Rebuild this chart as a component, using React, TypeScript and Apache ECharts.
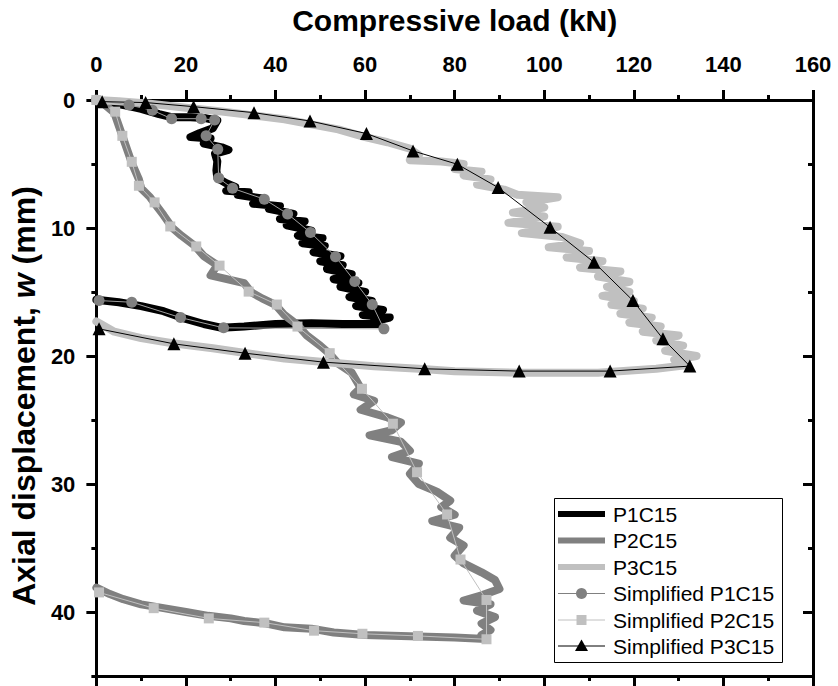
import React, { useEffect, useRef } from "react";
import * as echarts from "echarts";

// ---------- data (load kN, displacement mm) ----------
const p1c15: number[][] = [
  [0, 0], [3, 0.2], [7, 0.45], [10, 0.7], [14, 1.1], [17, 1.35], [21, 1.35], [24, 1.4], [27, 1.6],
  [26, 2.2], [23, 2.6], [21, 2.9], [25.5, 3.0], [24, 3.4], [28, 3.7], [29.5, 3.9], [26.5, 4.2],
  [27, 4.8], [26.8, 5.5], [27, 6.1], [29, 6.5], [31, 6.8], [29, 7.1], [34, 7.2], [31.5, 7.4],
  [37, 7.7], [35, 8.1], [41, 8.3], [38.5, 8.5], [44, 8.9], [41, 9.3], [46.5, 9.5], [42.5, 9.8],
  [48, 10.2], [45, 10.6], [50.5, 10.8], [46, 11.2], [51, 11.4], [48.5, 11.9], [54.5, 12.2], [50, 12.6],
  [55, 12.9], [51.5, 13.2], [57, 13.6], [53, 14.0], [58.5, 14.3], [54.5, 14.6], [60, 15.0], [56.5, 15.4],
  [61.5, 15.7], [58, 16.1], [64, 16.4], [59.5, 16.8], [65.5, 17.0], [62, 17.3], [63, 17.5], [55, 17.5],
  [48, 17.45], [40, 17.5], [33, 17.7], [28, 17.8], [24, 17.5], [19, 17.0], [15, 16.5], [10, 16.1],
  [5, 15.8], [0, 15.6],
];

const p2c15: number[][] = [
  [0, 0], [2, 0.4], [4, 1.0], [5, 2.0], [6, 3.0], [7, 4.0], [8, 5.0], [9.5, 6.2], [10, 6.9],
  [12, 7.6], [13.5, 8.3], [15, 9.0], [17, 10.0], [19, 10.6], [22, 11.4], [24, 12.2], [27, 12.9],
  [25.5, 13.7], [33, 14.3], [34.5, 15.0], [37, 15.5], [40, 16.0], [42, 16.8], [45, 17.6], [47, 18.4],
  [50, 19.2], [52, 19.8], [54, 20.6], [57, 21.3], [59, 22.5], [57.5, 23.0], [62, 23.5], [59, 24.2],
  [65, 24.8], [68, 25.2], [66, 25.8], [61, 26.2], [68, 26.7], [70, 27.4], [66, 27.9], [72, 28.4],
  [70, 29.2], [72, 30.0], [76, 30.6], [79, 31.3], [77, 31.8], [80, 32.4], [75, 32.9], [81, 33.4],
  [79, 34.2], [82, 34.8], [80, 35.6], [82, 36.2], [86, 36.9], [89, 37.5], [90, 38.2], [86, 38.7],
  [82, 39.1], [88, 39.4], [85, 39.9], [89, 40.4], [86, 40.9], [88, 41.4], [86, 41.8], [87, 42.1],
  [80, 42.0], [70, 41.9], [60, 41.8], [53, 41.6], [48, 41.3], [42, 41.2], [38, 40.9], [33, 40.7],
  [30, 40.5], [25, 40.3], [20, 40.0], [15, 39.7], [10, 39.4], [6, 39.0], [3, 38.6], [0, 38.1],
];

const p3c15: number[][] = [
  [0, 0], [5, 0.1], [12, 0.3], [20, 0.6], [28, 0.9], [35, 1.2], [42, 1.5], [48, 1.9], [54, 2.3],
  [60, 2.9], [65, 3.3], [70, 3.8], [72, 4.3], [70, 4.7], [77, 4.8], [82, 5.0], [80, 5.4], [86, 5.6],
  [82, 5.9], [88, 6.2], [85, 6.6], [91, 7.0], [94, 7.4], [103, 7.6], [96, 8.0], [100, 8.4], [93, 8.8],
  [100, 9.1], [92, 9.6], [103, 9.9], [95, 10.4], [104, 10.7], [108, 11.2], [101, 11.5], [110, 11.8],
  [105, 12.3], [113, 12.6], [108, 13.1], [117, 13.4], [112, 13.8], [119, 14.2], [114, 14.6],
  [119, 15.0], [113, 15.3], [120, 15.7], [115, 16.0], [122, 16.3], [117, 16.7], [124, 17.0],
  [119, 17.4], [126, 17.7], [122, 18.1], [130, 18.4], [125, 18.8], [131, 19.2], [127, 19.6],
  [134, 20.0], [129, 20.3], [132, 20.7], [125, 21.0], [112, 21.3], [95, 21.3], [80, 21.2], [72, 21.0],
  [62, 20.8], [52, 20.5], [42, 20.2], [34, 19.8], [26, 19.4], [17, 19.0], [10, 18.6], [4, 18.1], [0, 17.3],
];

const simpP1: number[][] = [
  [0, 0], [7.3, 0.39], [12.5, 0.8], [16.8, 1.46], [23.4, 1.46], [26.4, 1.56], [24.5, 2.8], [27.1, 3.85],
  [27.3, 6.1], [30.4, 6.9], [37.5, 7.75], [42.7, 8.9], [47.8, 10.35], [53.4, 12.24], [57.7, 14.17],
  [61.6, 15.98], [64.2, 17.88], [28.4, 17.8], [18.8, 17.0], [7.9, 15.8], [0.6, 15.67],
];

const simpP2: number[][] = [
  [0, 0], [4.2, 0.91], [5.8, 2.8], [7.9, 4.83], [9.5, 6.7], [13.0, 8.0], [16.5, 9.88], [22.3, 11.44],
  [27.5, 12.94], [34.0, 14.97], [40.3, 15.98], [44.9, 17.7], [52.1, 19.78], [59.3, 22.56],
  [66.2, 25.29], [71.6, 29.08], [78.3, 32.38], [81.3, 35.9], [87.1, 39.06], [87.1, 42.13],
  [71.8, 41.87], [59.4, 41.7], [48.6, 41.46], [37.5, 40.83], [25.1, 40.5], [12.8, 39.7], [0.6, 38.47],
];

const simpP3: number[][] = [
  [1.3, 0.13], [11.0, 0.2], [21.7, 0.52], [35.2, 0.99], [47.7, 1.64], [60.3, 2.62], [70.7, 3.98],
  [80.6, 5.02], [89.7, 6.84], [101.3, 9.95], [111.1, 12.68], [119.8, 15.67], [126.5, 18.66],
  [132.5, 20.79], [114.7, 21.18], [94.4, 21.18], [73.3, 21.0], [50.7, 20.48], [33.2, 19.78],
  [17.3, 19.05], [0.6, 17.88],
];

const legendNames = [
  "P1C15", "P2C15", "P3C15", "Simplified P1C15", "Simplified P2C15", "Simplified P3C15",
];

const xTicks = { min: 0, max: 160, interval: 20 };
const yMajor = [0, 10, 20, 30, 40];
const yMinor = [5, 15, 25, 35, 45];

const FONT = "'Liberation Sans', Arial, Helvetica, sans-serif";

export default function App() {
  const ref = useRef<HTMLDivElement>(null);

  useEffect(() => {
    document.body.style.margin = "0";
    if (!ref.current) return;
    const chart = echarts.init(ref.current, null, { renderer: "svg" });

    const axisLine = { show: true, onZero: false, lineStyle: { color: "#000", width: 3 } };
    const tickStyle = { color: "#000", width: 3 };

    const xBase = (position: string, showLabel: boolean, name?: string) => ({
      type: "value",
      position,
      gridIndex: 0,
      min: xTicks.min,
      max: xTicks.max,
      interval: xTicks.interval,
      name: name || "",
      nameLocation: "middle",
      nameGap: 65,
      nameTextStyle: { fontFamily: FONT, fontWeight: "bold", fontSize: 30, color: "#000" },
      axisLine,
      axisTick: { show: true, inside: false, length: 10, lineStyle: tickStyle },
      minorTick: { show: true, splitNumber: 2, length: 5, lineStyle: tickStyle },
      axisLabel: {
        show: showLabel,
        margin: 25,
        fontFamily: FONT,
        fontWeight: "bold",
        fontSize: 22,
        color: "#000",
      },
      splitLine: { show: false },
      minorSplitLine: { show: false },
    });

    const yBase = (position: string, extra: any) => ({
      type: "value",
      position,
      gridIndex: 0,
      min: 0,
      max: 45,
      inverse: true,
      splitLine: { show: false },
      ...extra,
    });

    const lineSeries = (name: string, data: number[][], color: string, width: number) => ({
      name,
      type: "line",
      xAxisIndex: 0,
      yAxisIndex: 0,
      data,
      symbol: "none",
      showSymbol: false,
      lineStyle: { color, width, join: "round", cap: "round" },
      itemStyle: { color },
      z: 2,
    });

    const simpSeries = (
      name: string,
      data: number[][],
      lineColor: string,
      symbol: string,
      size: number,
      symColor: string
    ) => ({
      name,
      type: "line",
      xAxisIndex: 0,
      yAxisIndex: 0,
      data,
      symbol,
      symbolSize: size,
      showSymbol: true,
      lineStyle: { color: lineColor, width: 1 },
      itemStyle: { color: symColor, borderWidth: 0 },
      z: 3,
    });

    // legend drawn with graphic elements
    const lgX = 554, lgY = 498, lgW = 228, lgH = 164;
    const rowY = [514, 540.5, 567, 593.5, 620, 646];
    const sx0 = 558, sx1 = 605, sxc = (558 + 605) / 2, tx = 613;
    const legendGraphic: any[] = [
      {
        type: "rect",
        shape: { x: lgX + 0.5, y: lgY + 0.5, width: lgW, height: lgH },
        style: { fill: "#fff", stroke: "#000", lineWidth: 1 },
        z: 10,
      },
    ];
    const expColors = ["#000000", "#808080", "#c0c0c0"];
    for (let i = 0; i < 3; i++) {
      legendGraphic.push({
        type: "line",
        shape: { x1: sx0, y1: rowY[i], x2: sx1, y2: rowY[i] },
        style: { stroke: expColors[i], lineWidth: 6 },
        z: 11,
      });
    }
    const simpLine = ["#808080", "#c0c0c0", "#000000"];
    for (let i = 0; i < 3; i++) {
      legendGraphic.push({
        type: "line",
        shape: { x1: sx0, y1: rowY[3 + i], x2: sx1, y2: rowY[3 + i] },
        style: { stroke: simpLine[i], lineWidth: 1 },
        z: 11,
      });
    }
    legendGraphic.push({
      type: "circle",
      shape: { cx: sxc, cy: rowY[3], r: 5.5 },
      style: { fill: "#808080" },
      z: 12,
    });
    legendGraphic.push({
      type: "rect",
      shape: { x: sxc - 5, y: rowY[4] - 5, width: 10, height: 10 },
      style: { fill: "#c0c0c0" },
      z: 12,
    });
    legendGraphic.push({
      type: "polygon",
      shape: { points: [[sxc, rowY[5] - 6.5], [sxc - 6.5, rowY[5] + 5], [sxc + 6.5, rowY[5] + 5]] },
      style: { fill: "#000" },
      z: 12,
    });
    legendNames.forEach((n, i) => {
      legendGraphic.push({
        type: "text",
        x: tx,
        y: rowY[i],
        style: {
          text: n,
          fontFamily: FONT,
          fontSize: 21,
          fill: "#000",
          verticalAlign: "middle",
          align: "left",
        },
        z: 12,
      });
    });

    chart.setOption({
      animation: false,
      backgroundColor: "#fff",
      grid: { left: 94, top: 99, width: 719, height: 577, containLabel: false },
      xAxis: [xBase("top", true, "Compressive load (kN)"), xBase("bottom", false)],
      yAxis: [
        yBase("left", {
          name: "Axial displacement, {i|w} (mm)",
          nameLocation: "middle",
          nameGap: 44,
          nameTextStyle: {
            fontFamily: FONT,
            fontWeight: "bold",
            fontSize: 32,
            color: "#000",
            padding: [0, 16, 0, 0],
            rich: {
              i: { fontFamily: FONT, fontWeight: "bold", fontStyle: "italic", fontSize: 32, color: "#000" },
            },
          },
          axisLine,
          axisTick: { show: true, inside: false, length: 10, lineStyle: tickStyle, customValues: yMajor },
          axisLabel: {
            show: true,
            margin: 21,
            fontFamily: FONT,
            fontWeight: "bold",
            fontSize: 22,
            color: "#000",
            customValues: yMajor,
          },
        }),
        yBase("left", {
          axisLine: { show: false, onZero: false },
          axisTick: { show: true, inside: false, length: 5, lineStyle: tickStyle, customValues: yMinor },
          axisLabel: { show: false },
        }),
        yBase("right", {
          axisLine,
          axisTick: { show: true, inside: true, length: 10, lineStyle: tickStyle, customValues: yMajor },
          axisLabel: { show: false },
        }),
        yBase("right", {
          axisLine: { show: false, onZero: false },
          axisTick: { show: true, inside: true, length: 5, lineStyle: tickStyle, customValues: yMinor },
          axisLabel: { show: false },
        }),
      ],
      series: [
        lineSeries("P1C15", p1c15, "#000000", 8),
        lineSeries("P2C15", p2c15, "#808080", 8),
        lineSeries("P3C15", p3c15, "#c0c0c0", 8),
        simpSeries("Simplified P1C15", simpP1, "#a0a0a0", "circle", 11, "#808080"),
        simpSeries("Simplified P2C15", simpP2, "#c0c0c0", "rect", 10, "#c0c0c0"),
        simpSeries("Simplified P3C15", simpP3, "#000000", "triangle", 13, "#000000"),
      ],
      graphic: legendGraphic,
    });

    return () => chart.dispose();
  }, []);

  return <div ref={ref} style={{ width: 838, height: 686 }} />;
}
